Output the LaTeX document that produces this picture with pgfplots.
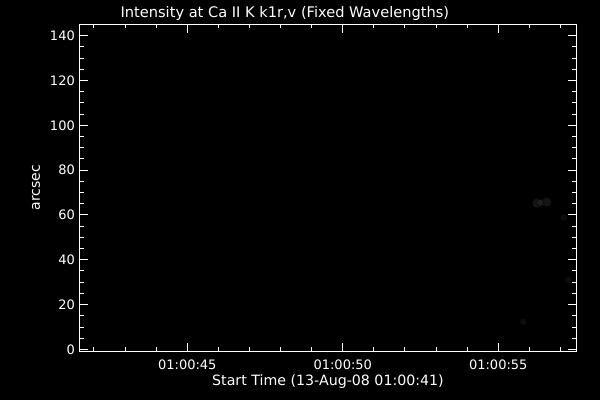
\documentclass[border=0pt]{standalone}
\usepackage{pgfplots}
\pgfplotsset{compat=1.18}
\usepackage{fontspec}
\setmainfont{DejaVu Sans}
\newcommand{\lab}{\fontsize{13}{15}\selectfont}
\begin{document}
\begin{tikzpicture}[x=1pt,y=1pt]
\fill[black] (0,0) rectangle (600,400);
\begin{axis}[
  at={(80pt,49pt)}, anchor=south west,
  scale only axis, width=496pt, height=327pt,
  xmin=41.55, xmax=57.5, ymin=-0.7, ymax=145.2,
  axis line style={white, line width=1pt},
  axis background/.style={fill=black},
  every tick/.style={white, line width=1pt},
  tick align=inside,
  major tick length=8.5pt, minor tick length=4pt,
  xtick={45,50,55}, xticklabels={01:00:45,01:00:50,01:00:55},
  minor xtick={42,43,44,46,47,48,49,51,52,53,54,56,57},
  ytick={0,20,40,60,80,100,120,140},
  minor ytick={5,10,15,25,30,35,45,50,55,65,70,75,85,90,95,105,110,115,125,130,135,145},
  xticklabel pos=left, yticklabel pos=left,
  tick label style={font=\lab, text=white, inner sep=0pt},
  xticklabel style={anchor=north, yshift=-9pt},
  yticklabel style={anchor=east, xshift=-5pt},
  /pgf/number format/assume math mode=true,
  title={Intensity at Ca II K k1r,v (Fixed Wavelengths)},
  title style={font=\fontsize{14.6}{16}\selectfont, text=white, inner sep=0pt,
    at={(axis description cs:0.413,1)}, anchor=base, yshift=1pt},
  xlabel={Start Time (13-Aug-08 01:00:41)},
  xlabel style={font=\fontsize{14.2}{16}\selectfont, text=white, inner sep=0pt,
    at={(axis description cs:0.5,0)}, anchor=base, yshift=-34.5pt},
  ylabel={arcsec},
  ylabel style={font=\fontsize{14}{16}\selectfont, text=white, inner sep=0pt,
    at={([xshift=-40pt]axis description cs:0,0.5)}, anchor=base},
  clip=true,
]
% faint intensity features
\addplot[only marks, mark=*, mark size=5pt, mark options={draw=none, fill=black!92!white}]
  coordinates {(56.25,65.3) (56.55,65.8)};
\addplot[only marks, mark=*, mark size=3.5pt, mark options={draw=none, fill=black!88!white}]
  coordinates {(56.35,65.5)};
\addplot[only marks, mark=*, mark size=3.5pt, mark options={draw=none, fill=black!95!white}]
  coordinates {(55.8,12.3) (57.25,31.0) (57.1,58.8)};
\end{axis}
\end{tikzpicture}
\end{document}
